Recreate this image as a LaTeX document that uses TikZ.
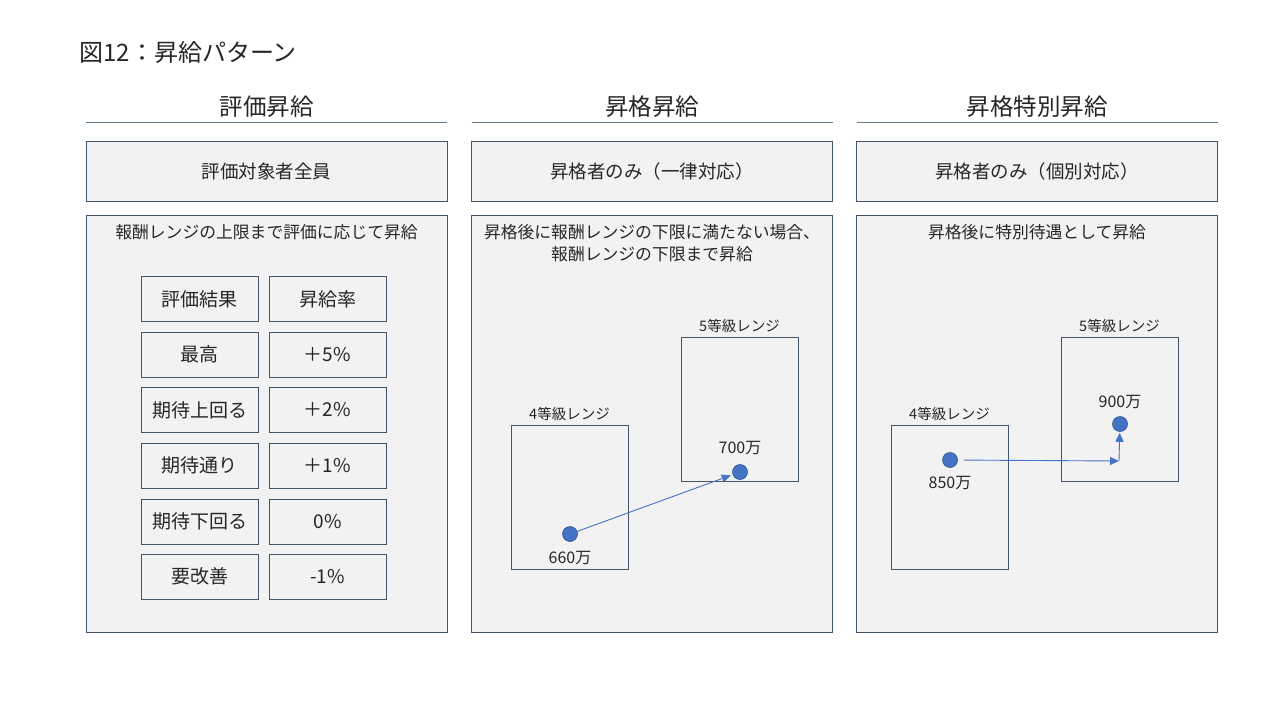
\documentclass[tikz,border=0pt]{standalone}
\usepackage{fontspec}
\setmainfont{Noto Sans CJK JP}
\usetikzlibrary{arrows.meta}
\definecolor{figFrame}{RGB}{68,84,106}
\definecolor{figBg}{RGB}{242,242,242}
\definecolor{figLine}{RGB}{96,120,140}
\definecolor{figDot}{RGB}{68,114,196}
\definecolor{figDotD}{RGB}{47,82,143}
\definecolor{figTxt}{RGB}{38,38,38}

\begin{document}
\begin{tikzpicture}[x=1pt,y=-1pt,
  panel/.style={draw=figFrame,fill=figBg,line width=0.8pt,inner sep=0},
  cell/.style={draw=figFrame,fill=figBg,line width=0.8pt,minimum width=117,minimum height=45,inner sep=0,font=\fontsize{19}{22}\selectfont,text=figTxt},
  rangebox/.style={draw=figFrame,line width=0.8pt,minimum width=117,minimum height=144,inner sep=0},
  head/.style={font=\fontsize{23.5}{28}\selectfont,text=figTxt},
  txt/.style={font=\fontsize{16.8}{22}\selectfont,text=figTxt,align=center},
  small/.style={font=\fontsize{14.5}{17}\selectfont,text=figTxt},
  val/.style={font=\fontsize{16}{19}\selectfont,text=figTxt},
  dot/.style={circle,fill=figDot,draw=figDotD,line width=0.6pt,minimum size=15,inner sep=0},
  arr/.style={figDot,line width=0.9pt,-{Triangle[length=9pt,width=8pt]}}]
\fill[white] (0,0) rectangle (1280,720);
\useasboundingbox (0,0) rectangle (1280,720);
\node[head,anchor=west,font=\fontsize{24}{28}\selectfont] (title) at (76,52) {図12：昇給パターン};
% three columns: headers, lines, target boxes, bodies
\foreach \c/\cx/\hd/\tg in {1/266.5/評価昇給/評価対象者全員,2/652/昇格昇給/昇格者のみ（一律対応）,3/1037/昇格特別昇給/昇格者のみ（個別対応）}{
  \node[head] (hd\c) at (\cx,107) {\hd};
  \draw[figLine,line width=1pt] (\cx-180.5,122) -- (\cx+180.5,122);
  \node[panel,minimum width=361,minimum height=60,txt,font=\fontsize{18.5}{22}\selectfont] (tg\c) at (\cx,171) {\tg};
  \node[panel,minimum width=361,minimum height=417] (bd\c) at (\cx,423.5) {};
}
\node[txt] (ds1) at (266.5,232) {報酬レンジの上限まで評価に応じて昇給};
\node[txt] (ds2) at (652,243) {昇格後に報酬レンジの下限に満たない場合、\\報酬レンジの下限まで昇給};
\node[txt] (ds3) at (1037,232) {昇格後に特別待遇として昇給};
% table of ratings
\foreach \i/\y/\a/\b in {0/299/評価結果/昇給率,1/354.5/最高/＋5\%,2/410/期待上回る/＋2\%,3/465.5/期待通り/＋1\%,4/521.5/期待下回る/0\%,5/576.5/要改善/-1\%}{
  \node[cell] (ra\i) at (199.5,\y) {\a};
  \node[cell] (rb\i) at (327.5,\y) {\b};
}
% promotion with floor
\node[rangebox] (g4a) at (569.5,497) {};
\node[rangebox] (g5a) at (739.5,409) {};
\node[small,above=0pt] (l4a) at (g4a.north) {4等級レンジ};
\node[small,above=0pt] (l5a) at (g5a.north) {5等級レンジ};
\node[dot] (p660) at (570,534) {};
\node[dot] (p700) at (740,472) {};
\node[val] (v660) at (570,558) {660万};
\node[val] (v700) at (740,448) {700万};
\draw[arr,shorten >=2pt] (p660) -- (p700);
% special promotion
\node[rangebox] (g4b) at (949.5,497) {};
\node[rangebox] (g5b) at (1119.5,409) {};
\node[small,above=0pt] (l4b) at (g4b.north) {4等級レンジ};
\node[small,above=0pt] (l5b) at (g5b.north) {5等級レンジ};
\node[dot] (p850) at (950,460) {};
\node[dot] (p900) at (1120,424) {};
\node[val] (v850) at (950,483) {850万};
\node[val] (v900) at (1120,402) {900万};
\coordinate (bend) at (1119,461);
\draw[arr,shorten <=6pt] (p850) -- (bend);
\draw[arr,shorten >=1pt] (bend) -- (p900);
\end{tikzpicture}
\end{document}
